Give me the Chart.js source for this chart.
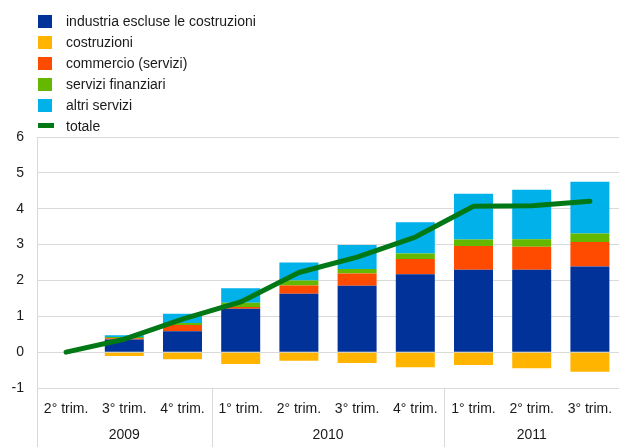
<!DOCTYPE html>
<html>
<head>
<meta charset="utf-8">
<script src="https://cdn.jsdelivr.net/npm/chart.js@4"></script>
<style>
  body { margin: 0; background: #fff; font-family: "Liberation Sans", Arial, sans-serif; }
  #wrap { position: relative; width: 619px; height: 447px; }
  #legend { position: absolute; left: 38px; top: 11px; font-size: 14px; color: #1a1a1a; }
  #legend .row { height: 20.9px; display: flex; align-items: center; }
  #legend .box { width: 14px; height: 13px; margin-right: 14px; }
  #legend .ln { width: 16px; height: 5px; margin-right: 12px; }
</style>
</head>
<body>
<div id="wrap">
  <canvas id="chart"></canvas>
  <div id="legend"></div>
</div>
<script>
const quarters = ["2° trim.", "3° trim.", "4° trim.", "1° trim.", "2° trim.", "3° trim.", "4° trim.", "1° trim.", "2° trim.", "3° trim."];
const years = ["2009", "2010", "2011"];
const yearSpans = [3, 4, 3]; // number of quarters in each year group

const industria = [null, 0.35, 0.58, 1.21, 1.63, 1.85, 2.17, 2.30, 2.30, 2.39];
const costruzioni = [null, -0.11, -0.20, -0.33, -0.24, -0.30, -0.42, -0.36, -0.45, -0.55];
const commercio = [null, 0.04, 0.18, 0.05, 0.23, 0.34, 0.43, 0.66, 0.64, 0.68];
const finanziari = [null, 0.03, 0.05, 0.12, 0.14, 0.13, 0.15, 0.18, 0.21, 0.24];
const altri = [null, 0.05, 0.26, 0.40, 0.50, 0.67, 0.87, 1.28, 1.38, 1.44];
const totale = [0, 0.36, 0.92, 1.40, 2.22, 2.65, 3.21, 4.07, 4.08, 4.21];

const gridColor = "#d9d9d9";
const textColor = "#1a1a1a";

function bar(label, data, color) {
    return {
        type: "bar",
        label: label,
        data: data,
        backgroundColor: color,
        stack: "s",
        order: 1,
        barPercentage: 0.67,
        categoryPercentage: 1,
    };
}

const datasets = [
    bar("industria escluse le costruzioni", industria, "#003299"),
    bar("costruzioni", costruzioni, "#ffb400"),
    bar("commercio (servizi)", commercio, "#ff4b00"),
    bar("servizi finanziari", finanziari, "#65b800"),
    bar("altri servizi", altri, "#00b1ea"),
    {
        type: "line",
        label: "totale",
        data: totale,
        borderColor: "#007816",
        borderWidth: 5,
        borderCapStyle: "round",
        borderJoinStyle: "round",
        pointRadius: 0,
        tension: 0,
        order: 0,
    },
];

// legend in a single column, top left
const legend = document.getElementById("legend");
datasets.forEach((ds) => {
    const row = document.createElement("div");
    row.className = "row";
    const sw = document.createElement("span");
    sw.className = ds.type === "line" ? "ln" : "box";
    sw.style.background = ds.type === "line" ? ds.borderColor : ds.backgroundColor;
    row.appendChild(sw);
    row.appendChild(document.createTextNode(ds.label));
    legend.appendChild(row);
});

// year labels and group separators under the quarter labels
const yearGroups = {
    id: "yearGroups",
    afterDraw(chart) {
        const ctx = chart.ctx;
        const area = chart.chartArea;
        const step = (area.right - area.left) / quarters.length;
        ctx.save();
        ctx.strokeStyle = gridColor;
        ctx.lineWidth = 1;
        ctx.fillStyle = textColor;
        ctx.font = "14px 'Liberation Sans', Arial, sans-serif";
        ctx.textAlign = "center";
        ctx.textBaseline = "middle";
        let start = 0;
        yearSpans.forEach((n, i) => {
            const left = area.left + start * step;
            const right = area.left + (start + n) * step;
            const edge = Math.round(left) + 0.5;
            ctx.beginPath();
            ctx.moveTo(edge, area.bottom);
            ctx.lineTo(edge, chart.height);
            ctx.stroke();
            ctx.fillText(years[i], (left + right) / 2, 435);
            start += n;
        });
        ctx.restore();
    },
};

new Chart(document.getElementById("chart"), {
    data: {
        labels: quarters,
        datasets: datasets,
    },
    options: {
        responsive: true,
        maintainAspectRatio: false,
        animation: false,
        layout: {
            padding: { top: 137, right: -5, bottom: 0, left: 0 },
        },
        plugins: {
            legend: { display: false },
            tooltip: { enabled: false },
        },
        scales: {
            x: {
                stacked: true,
                grid: { display: false },
                border: { display: false },
                ticks: {
                    color: textColor,
                    font: { size: 14, family: "'Liberation Sans', Arial, sans-serif" },
                    padding: 5,
                    maxRotation: 0,
                    autoSkip: false,
                },
                afterFit: (s) => { s.height = 59; },
            },
            y: {
                stacked: true,
                min: -1,
                max: 6,
                grid: { color: gridColor, drawTicks: false },
                border: { color: gridColor },
                ticks: {
                    stepSize: 1,
                    color: textColor,
                    font: { size: 14, family: "'Liberation Sans', Arial, sans-serif" },
                    padding: 13,
                },
                afterFit: (s) => { s.width = 37; },
            },
        },
    },
    plugins: [yearGroups],
});
</script>
</body>
</html>
